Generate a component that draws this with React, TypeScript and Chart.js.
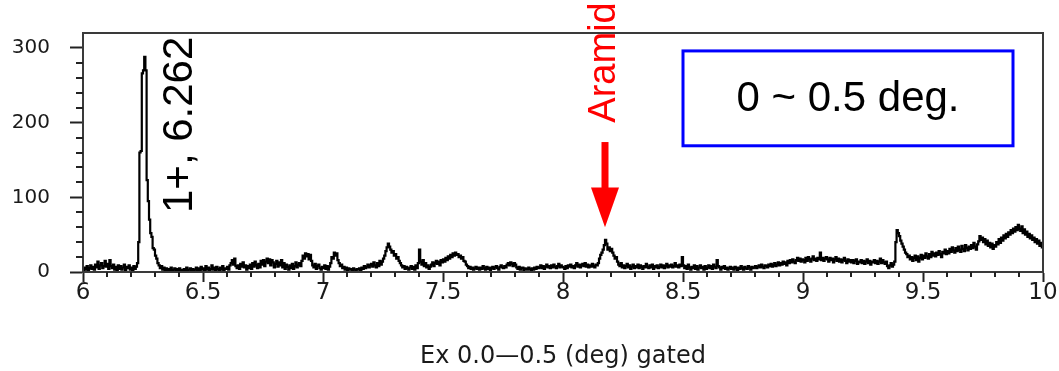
import React, { useEffect, useRef } from 'react';
import { Chart, registerables } from 'chart.js';

Chart.register(...registerables);

// Histogram: counts per 0.005 MeV bin, starting at 6.000 MeV (each row = 0.05 MeV)
const binStart = 6.0;
const binWidth = 0.005;
const counts: number[] = [
  /* 6.00 */ 2, 6, 3, 8, 1, 5, 9, 4, 7, 3,
  /* 6.05 */ 10, 6, 14, 4, 9, 12, 5, 8, 15, 7,
  /* 6.10 */ 11, 4, 16, 8, 5, 10, 3, 7, 2, 9,
  /* 6.15 */ 4, 8, 3, 6, 10, 2, 7, 5, 9, 3,
  /* 6.20 */ 6, 2, 8, 4, 7, 12, 40, 160, 162, 266,
  /* 6.25 */ 270, 288, 270, 123, 95, 70, 52, 47, 32, 30,
  /* 6.30 */ 22, 18, 12, 9, 5, 8, 3, 6, 2, 5,
  /* 6.35 */ 1, 4, 2, 6, 0, 3, 5, 1, 4, 2,
  /* 6.40 */ 5, 1, 3, 0, 4, 2, 6, 1, 3, 5,
  /* 6.45 */ 2, 4, 0, 3, 6, 1, 5, 2, 7, 3,
  /* 6.50 */ 5, 1, 8, 3, 6, 2, 4, 9, 3, 6,
  /* 6.55 */ 2, 7, 4, 1, 6, 3, 8, 2, 5, 4,
  /* 6.60 */ 7, 3, 9, 12, 16, 10, 18, 8, 5, 9,
  /* 6.65 */ 4, 11, 7, 13, 6, 9, 3, 8, 5, 10,
  /* 6.70 */ 4, 12, 7, 14, 9, 5, 11, 6, 15, 10,
  /* 6.75 */ 16, 8, 14, 18, 12, 17, 9, 16, 13, 6,
  /* 6.80 */ 11, 15, 7, 13, 9, 16, 6, 12, 4, 10,
  /* 6.85 */ 7, 3, 9, 5, 11, 4, 8, 13, 6, 10,
  /* 6.90 */ 12, 8, 15, 22, 18, 25, 21, 24, 17, 23,
  /* 6.95 */ 15, 9, 6, 11, 4, 8, 10, 5, 3, 7,
  /* 7.00 */ 5, 9, 4, 8, 3, 7, 12, 20, 18, 26,
  /* 7.05 */ 22, 25, 16, 12, 8, 10, 5, 7, 3, 6,
  /* 7.10 */ 2, 5, 3, 4, 1, 5, 3, 2, 4, 3,
  /* 7.15 */ 5, 2, 6, 4, 8, 5, 7, 10, 6, 9,
  /* 7.20 */ 11, 7, 13, 9, 6, 12, 8, 15, 10, 14,
  /* 7.25 */ 18, 22, 28, 33, 38, 34, 30, 26, 28, 22,
  /* 7.30 */ 24, 18, 20, 15, 12, 9, 6, 8, 4, 7,
  /* 7.35 */ 5, 3, 6, 8, 4, 7, 3, 9, 5, 12,
  /* 7.40 */ 30, 14, 10, 16, 8, 12, 6, 9, 4, 7,
  /* 7.45 */ 10, 13, 8, 12, 15, 11, 14, 9, 16, 13,
  /* 7.50 */ 17, 14, 19, 16, 21, 18, 23, 20, 25, 22,
  /* 7.55 */ 26, 23, 24, 20, 22, 18, 20, 15, 14, 10,
  /* 7.60 */ 8, 5, 7, 4, 6, 3, 5, 7, 4, 6,
  /* 7.65 */ 3, 6, 4, 8, 5, 3, 7, 4, 6, 2,
  /* 7.70 */ 5, 7, 4, 6, 8, 5, 3, 7, 9, 6,
  /* 7.75 */ 5, 8, 6, 10, 12, 9, 13, 11, 8, 12,
  /* 7.80 */ 10, 6, 4, 7, 3, 5, 6, 2, 5, 4,
  /* 7.85 */ 3, 6, 4, 2, 5, 3, 6, 4, 7, 5,
  /* 7.90 */ 6, 9, 5, 8, 4, 7, 10, 6, 8, 5,
  /* 7.95 */ 9, 6, 10, 7, 5, 8, 11, 6, 9, 7,
  /* 8.00 */ 6, 4, 8, 5, 9, 7, 10, 6, 8, 5,
  /* 8.05 */ 9, 12, 7, 10, 6, 9, 11, 8, 12, 7,
  /* 8.10 */ 10, 6, 9, 7, 11, 8, 6, 10, 9, 12,
  /* 8.15 */ 18, 23, 26, 30, 36, 43, 38, 30, 33, 28,
  /* 8.20 */ 31, 26, 22, 18, 20, 14, 10, 8, 12, 6,
  /* 8.25 */ 9, 5, 8, 11, 6, 9, 4, 7, 10, 5,
  /* 8.30 */ 8, 6, 10, 5, 9, 7, 4, 8, 6, 11,
  /* 8.35 */ 7, 5, 9, 6, 10, 4, 8, 6, 9, 5,
  /* 8.40 */ 7, 10, 6, 9, 5, 8, 11, 6, 9, 7,
  /* 8.45 */ 10, 6, 8, 12, 7, 9, 6, 10, 8, 20,
  /* 8.50 */ 9, 5, 8, 4, 10, 6, 3, 7, 5, 9,
  /* 8.55 */ 4, 8, 3, 6, 9, 5, 7, 3, 8, 4,
  /* 8.60 */ 6, 9, 5, 8, 4, 10, 7, 5, 16, 8,
  /* 8.65 */ 6, 3, 7, 5, 8, 4, 6, 3, 5, 7,
  /* 8.70 */ 4, 6, 3, 7, 5, 2, 6, 4, 8, 5,
  /* 8.75 */ 3, 7, 5, 4, 8, 6, 3, 7, 5, 6,
  /* 8.80 */ 8, 5, 7, 9, 6, 10, 7, 5, 9, 8,
  /* 8.85 */ 6, 10, 8, 11, 7, 9, 12, 8, 10, 13,
  /* 8.90 */ 9, 12, 10, 14, 11, 13, 9, 15, 12, 16,
  /* 8.95 */ 13, 17, 14, 12, 16, 19, 15, 18, 14, 17,
  /* 9.00 */ 16, 13, 19, 15, 20, 17, 14, 18, 21, 16,
  /* 9.05 */ 18, 15, 19, 17, 26, 16, 19, 15, 18, 20,
  /* 9.10 */ 17, 14, 19, 16, 18, 13, 17, 20, 15, 18,
  /* 9.15 */ 14, 17, 13, 16, 19, 15, 12, 17, 14, 16,
  /* 9.20 */ 13, 16, 12, 15, 17, 11, 14, 13, 16, 12,
  /* 9.25 */ 15, 11, 14, 17, 12, 15, 10, 14, 13, 16,
  /* 9.30 */ 12, 15, 11, 14, 18, 12, 16, 13, 11, 14,
  /* 9.35 */ 8, 5, 9, 12, 7, 10, 14, 40, 56, 52,
  /* 9.40 */ 48, 42, 38, 34, 30, 26, 24, 20, 22, 17,
  /* 9.45 */ 20, 15, 19, 22, 16, 21, 14, 19, 23, 17,
  /* 9.50 */ 22, 19, 25, 21, 18, 24, 20, 27, 22, 25,
  /* 9.55 */ 21, 26, 23, 28, 24, 20, 27, 25, 30, 24,
  /* 9.60 */ 28, 25, 31, 27, 33, 29, 26, 32, 28, 34,
  /* 9.65 */ 30, 27, 35, 31, 28, 36, 32, 29, 34, 31,
  /* 9.70 */ 36, 32, 39, 34, 30, 37, 41, 48, 43, 46,
  /* 9.75 */ 40, 44, 37, 42, 35, 39, 33, 38, 31, 36,
  /* 9.80 */ 34, 40, 37, 44, 39, 46, 42, 49, 45, 51,
  /* 9.85 */ 47, 53, 50, 56, 52, 58, 54, 60, 56, 63,
  /* 9.90 */ 58, 55, 61, 52, 57, 50, 54, 47, 51, 45,
  /* 9.95 */ 49, 43, 46, 40, 44, 38, 42, 35, 39, 33,
];

const xMin = 6;
const xMax = 10;
const yMin = 0;
const yMax = 320;
const xTickValues = [6, 6.5, 7, 7.5, 8, 8.5, 9, 9.5, 10];
const xTickLabels = ['6', '6.5', '7', '7.5', '8', '8.5', '9', '9.5', '10'];
const yTickValues = [0, 100, 200, 300];
const yTickLabels = ['0', '100', '200', '300'];
const xMinorStep = 0.1;
const yMinorStep = 20;
const xTitle = 'Ex 0.0\u20140.5 (deg) gated';
const peakLabel = '1+, 6.262';
const aramidLabel = 'Aramid';
const boxLabel = '0 ~ 0.5 deg.';

// annotation anchors (in data units)
const peakLabelAt = { x: 6.404, y: 79 };
const aramidLabelAt = { x: 8.175, y: 200 };
const arrowAt = { x: 8.175, yTop: 174, yHeadBase: 113, yTip: 60 };
const boxAt = { x0: 8.5, x1: 9.875, y0: 296, y1: 169 };

const overlayPlugin = {
  id: 'overlay',
  afterDraw(chart: any) {
    const { ctx, chartArea } = chart;
    const xs = chart.scales.x;
    const ys = chart.scales.y;
    ctx.save();

    // frame
    ctx.strokeStyle = '#3a3a3a';
    ctx.lineWidth = 2;
    ctx.strokeRect(chartArea.left, chartArea.top, chartArea.right - chartArea.left, chartArea.bottom - chartArea.top);

    // minor ticks
    ctx.strokeStyle = '#222';
    ctx.lineWidth = 2;
    ctx.beginPath();
    for (let k = 1; k < Math.round((xMax - xMin) / xMinorStep); k++) {
      if (k % 5 === 0) continue;
      const px = Math.round(xs.getPixelForValue(xMin + k * xMinorStep));
      ctx.moveTo(px, chartArea.bottom);
      ctx.lineTo(px, chartArea.bottom + 5);
    }
    for (let k = 1; k * yMinorStep < 310; k++) {
      if (k % 5 === 0) continue;
      const py = Math.round(ys.getPixelForValue(yMin + k * yMinorStep));
      ctx.moveTo(chartArea.left, py);
      ctx.lineTo(chartArea.left - 7, py);
    }
    ctx.stroke();

    // peak label
    ctx.save();
    ctx.translate(xs.getPixelForValue(peakLabelAt.x), ys.getPixelForValue(peakLabelAt.y));
    ctx.rotate(-Math.PI / 2);
    ctx.font = '42px "Liberation Sans", Arial, sans-serif';
    ctx.fillStyle = '#000';
    ctx.textAlign = 'left';
    ctx.textBaseline = 'middle';
    ctx.fillText(peakLabel, 0, 0);
    ctx.restore();

    // Aramid label
    ctx.save();
    ctx.translate(xs.getPixelForValue(aramidLabelAt.x), ys.getPixelForValue(aramidLabelAt.y));
    ctx.rotate(-Math.PI / 2);
    ctx.font = '38px "Liberation Sans", Arial, sans-serif';
    ctx.fillStyle = '#ff0000';
    ctx.textAlign = 'left';
    ctx.textBaseline = 'middle';
    ctx.fillText(aramidLabel, 0, 0);
    ctx.restore();

    // arrow
    const ax = xs.getPixelForValue(arrowAt.x);
    const yTop = ys.getPixelForValue(arrowAt.yTop);
    const yBase = ys.getPixelForValue(arrowAt.yHeadBase);
    const yTip = ys.getPixelForValue(arrowAt.yTip);
    ctx.fillStyle = '#ff0000';
    ctx.fillRect(ax - 3.5, yTop, 7, yBase - yTop + 1);
    ctx.beginPath();
    ctx.moveTo(ax - 14, yBase);
    ctx.lineTo(ax + 14, yBase);
    ctx.lineTo(ax, yTip);
    ctx.closePath();
    ctx.fill();

    // blue box with text
    const bx0 = xs.getPixelForValue(boxAt.x0);
    const bx1 = xs.getPixelForValue(boxAt.x1);
    const by0 = ys.getPixelForValue(boxAt.y0);
    const by1 = ys.getPixelForValue(boxAt.y1);
    ctx.fillStyle = '#ffffff';
    ctx.fillRect(bx0, by0, bx1 - bx0, by1 - by0);
    ctx.strokeStyle = '#0000ff';
    ctx.lineWidth = 3;
    ctx.strokeRect(bx0, by0, bx1 - bx0, by1 - by0);
    ctx.font = '42px "Liberation Sans", Arial, sans-serif';
    ctx.fillStyle = '#000';
    ctx.textAlign = 'center';
    ctx.textBaseline = 'middle';
    ctx.fillText(boxLabel, (bx0 + bx1) / 2, (by0 + by1) / 2 + 1);

    ctx.restore();
  },
};

export default function App() {
  const canvasRef = useRef<HTMLCanvasElement | null>(null);

  useEffect(() => {
    if (!canvasRef.current) return;
    const points = counts.map((c, i) => ({ x: binStart + i * binWidth, y: c }));
    points.push({ x: xMax, y: counts[counts.length - 1] });

    const chart = new Chart(canvasRef.current, {
      type: 'line',
      data: {
        datasets: [
          {
            data: points,
            borderColor: '#000',
            borderWidth: 2.2,
            pointRadius: 0,
            stepped: true,
            fill: false,
          },
        ],
      },
      options: {
        animation: false,
        responsive: true,
        maintainAspectRatio: false,
        layout: { padding: { top: 33, right: 16, left: 0, bottom: 0 } },
        plugins: { legend: { display: false }, tooltip: { enabled: false } },
        scales: {
          x: {
            type: 'linear',
            min: xMin,
            max: xMax,
            afterBuildTicks: (scale: any) => {
              scale.ticks = xTickValues.map((v) => ({ value: v }));
            },
            afterFit: (scale: any) => {
              scale.height = 371 - 272;
            },
            ticks: {
              autoSkip: false,
              maxRotation: 0,
              padding: 0,
              color: '#1a1a1a',
              font: { family: '"DejaVu Sans", sans-serif', size: 23, lineHeight: 1 },
              callback: (v: any) => {
                const i = xTickValues.indexOf(Number(v));
                return i >= 0 ? xTickLabels[i] : '';
              },
            },
            grid: { drawOnChartArea: false, tickLength: 10, tickWidth: 2, tickColor: '#222' },
            border: { color: '#222', width: 2 },
            title: {
              display: true,
              text: xTitle,
              color: '#1a1a1a',
              font: { family: '"DejaVu Sans", sans-serif', size: 24 },
              padding: { top: 0, bottom: 0 },
            },
          },
          y: {
            type: 'linear',
            min: yMin,
            max: yMax,
            afterBuildTicks: (scale: any) => {
              scale.ticks = yTickValues.map((v) => ({ value: v }));
            },
            afterFit: (scale: any) => {
              scale.width = 83;
            },
            ticks: {
              padding: 20,
              color: '#1a1a1a',
              font: { family: '"DejaVu Sans", sans-serif', size: 20 },
              callback: (v: any) => {
                const i = yTickValues.indexOf(Number(v));
                return i >= 0 ? yTickLabels[i] : '';
              },
            },
            grid: { drawOnChartArea: false, tickLength: 13, tickWidth: 2, tickColor: '#222' },
            border: { color: '#222', width: 2 },
          },
        },
      },
      plugins: [overlayPlugin],
    });
    return () => chart.destroy();
  }, []);

  return (
    <div style={{ position: 'absolute', left: 0, top: 0, width: 1059, height: 371, background: '#fff' }}>
      <canvas ref={canvasRef} />
    </div>
  );
}
